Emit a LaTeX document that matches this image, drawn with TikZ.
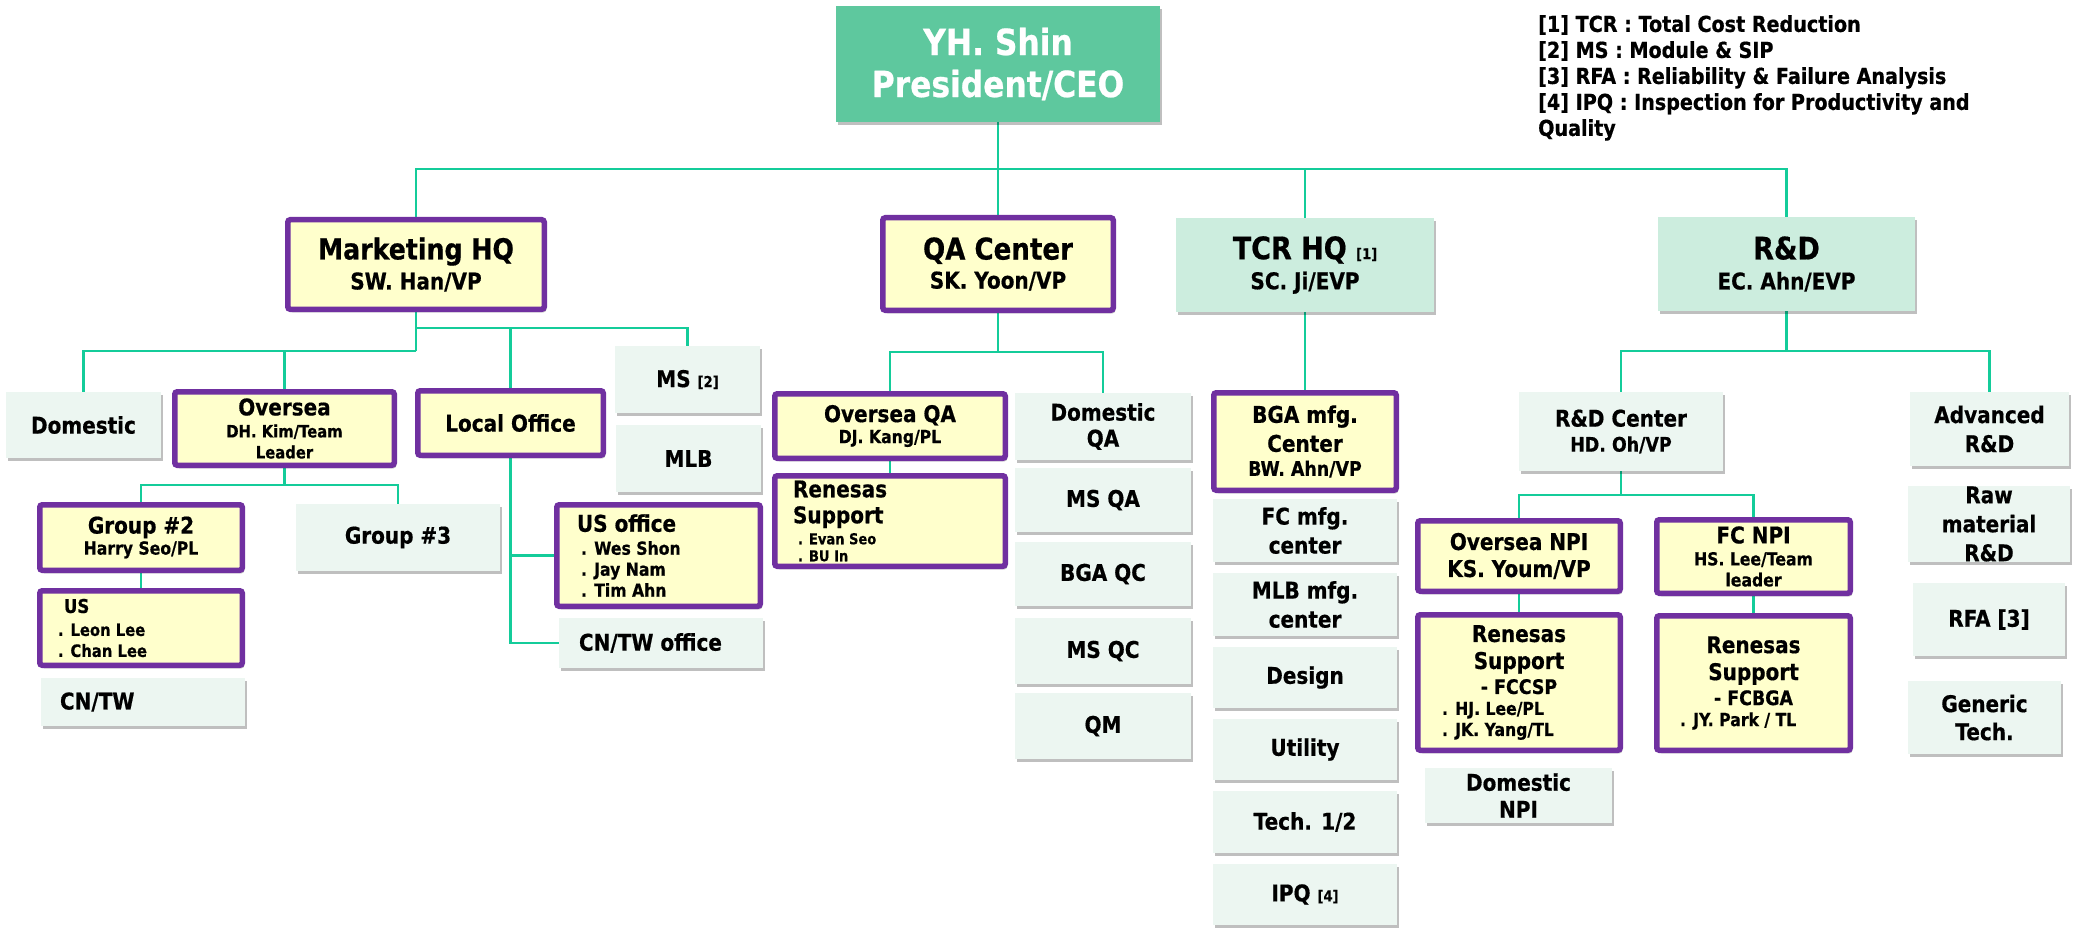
\documentclass[tikz,border=0pt]{standalone}
\usepackage{fontspec}
\setmainfont{DejaVu Sans}[FakeStretch=0.87, BoldFeatures={FakeBold=0.6}]
\usetikzlibrary{shadows,backgrounds}
\definecolor{purp}{RGB}{112,48,160}
\definecolor{ylw}{RGB}{255,255,204}
\definecolor{mint}{RGB}{236,246,241}
\definecolor{tmint}{RGB}{204,237,222}
\definecolor{ceog}{RGB}{94,200,158}
\definecolor{lin}{RGB}{20,204,154}
\newcommand{\setfs}[2]{\fontsize{#1}{#2}\selectfont}
\tikzset{
  box/.style={inner sep=0pt, align=center, text=black, font=\bfseries\setfs{23}{27},
    drop shadow={shadow xshift=2pt, shadow yshift=-3pt, opacity=0.25, fill=black}},
  pbox/.style={box, fill=ylw, draw=purp, line width=5.5pt, rounded corners=2.5pt},
  mbox/.style={box, fill=mint},
  tbox/.style={box, fill=tmint},
  conn/.style={draw=lin, line width=2.5pt},
}
\begin{document}
\begin{tikzpicture}[x=1pt, y=-1pt]
\useasboundingbox (0,0) rectangle (2073,928);
% CEO
\node[box, fill=ceog, text=white, minimum width=324pt, minimum height=116pt, font=\bfseries\setfs{36}{42}] (ceo) at (998,64) {YH. Shin\\President/CEO};
% legend
\node[inner sep=0pt, anchor=north west, align=left, font=\bfseries\setfs{22}{26}] (legend) at (1538,15)
 {{}[1] TCR : Total Cost Reduction\\{}[2] MS : Module \& SIP\\{}[3] RFA : Reliability \& Failure Analysis\\{}[4] IPQ : Inspection for Productivity and\\Quality};
% level 1
\node[pbox, minimum width=256.5pt, minimum height=89.5pt, font=\bfseries\setfs{23}{30}] (mkt) at (416,264.5)
 {{\setfs{29}{30}Marketing HQ}\\{\setfs{23}{30}SW. Han/VP}};
\node[pbox, minimum width=230.5pt, minimum height=92.5pt, font=\bfseries\setfs{23}{29}] (qa) at (998,264)
 {{\setfs{30}{29}QA Center}\\{\setfs{23}{29}SK. Yoon/VP}};
\node[tbox, minimum width=258pt, minimum height=94pt, font=\bfseries\setfs{23}{30}] (tcr) at (1305,265)
 {{\setfs{31}{30}TCR HQ \setfs{15}{30}[1]}\\{\setfs{23}{30}SC. Ji/EVP}};
\node[tbox, minimum width=257pt, minimum height=94pt, font=\bfseries\setfs{23}{30}] (rnd) at (1786.5,264)
 {{\setfs{31}{30}R\&D}\\{\setfs{23}{30}EC. Ahn/EVP}};
% marketing subtree
\node[mbox, minimum width=155pt, minimum height=66pt] (dom) at (83.5,425) {Domestic};
\node[pbox, minimum width=219.5pt, minimum height=73.5pt, font=\bfseries\setfs{23}{21}] (ovs) at (284.5,428.5)
 {Oversea\\[1pt]{\setfs{17}{21}DH. Kim/Team}\\{\setfs{17}{21}Leader}};
\node[pbox, minimum width=185.5pt, minimum height=64.5pt] (loc) at (510.5,423) {Local Office};
\node[mbox, minimum width=145pt, minimum height=67pt] (ms) at (687.5,379.5) {MS {\setfs{15}{18}[2]}};
\node[mbox, minimum width=145pt, minimum height=67pt] (mlb) at (688.5,458.5) {MLB};
\node[pbox, minimum width=203.5pt, minimum height=101.5pt, font=\bfseries\setfs{23}{21}] (usoff) at (658.5,555.5)
 {\makebox[163pt][l]{US office}\\[2pt]\makebox[163pt][l]{\setfs{18}{21}\hspace{4pt}. Wes Shon}\\\makebox[163pt][l]{\setfs{18}{21}\hspace{4pt}. Jay Nam}\\\makebox[163pt][l]{\setfs{18}{21}\hspace{4pt}. Tim Ahn}};
\node[mbox, minimum width=204pt, minimum height=50pt] (cnoff) at (661,643) {\makebox[164pt][l]{CN/TW office}};
\node[pbox, minimum width=202.5pt, minimum height=65.5pt, font=\bfseries\setfs{23}{21}] (g2) at (141,537.5)
 {Group \#2\\{\setfs{18}{21}Harry Seo/PL}};
\node[pbox, minimum width=202.5pt, minimum height=74.5pt, font=\bfseries\setfs{19}{21}] (us) at (141,628)
 {\makebox[166pt][l]{\hspace{6pt}US}\\[2pt]\makebox[166pt][l]{\setfs{17}{21}. Leon Lee}\\\makebox[166pt][l]{\setfs{17}{21}. Chan Lee}};
\node[mbox, minimum width=204pt, minimum height=48pt] (cn) at (143,702) {\makebox[166pt][l]{CN/TW}};
\node[mbox, minimum width=204pt, minimum height=67pt] (g3) at (398,537.5) {Group \#3};
% QA subtree
\node[pbox, minimum width=230.5pt, minimum height=64.5pt, font=\bfseries\setfs{23}{21}] (ovqa) at (890,426)
 {Oversea QA\\{\setfs{18}{21}DJ. Kang/PL}};
\node[pbox, minimum width=230.5pt, minimum height=90.5pt, font=\bfseries\setfs{23}{19}] (renqa) at (890,521)
 {\makebox[194pt][l]{Renesas}\\[7pt]\makebox[194pt][l]{Support}\\[2pt]\makebox[194pt][l]{\setfs{15}{19}\hspace{5pt}. Evan Seo}\\[-2pt]\makebox[194pt][l]{\setfs{15}{19}\hspace{5pt}. BU In}};
\node[mbox, minimum width=176pt, minimum height=67pt, font=\bfseries\setfs{23}{26}] (domqa) at (1103,426.5) {Domestic\\QA};
\node[mbox, minimum width=176pt, minimum height=64pt] (msqa) at (1103,500) {MS QA};
\node[mbox, minimum width=176pt, minimum height=64pt] (bgaqc) at (1103,574) {BGA QC};
\node[mbox, minimum width=176pt, minimum height=66pt] (msqc) at (1103,651) {MS QC};
\node[mbox, minimum width=176pt, minimum height=66pt] (qm) at (1103,726) {QM};
% TCR subtree
\node[pbox, minimum width=182.5pt, minimum height=97.5pt, font=\bfseries\setfs{23}{29}] (bga) at (1305,441.5)
 {BGA mfg.\\Center\\[-5pt]{\setfs{20}{29}BW. Ahn/VP}};
\node[mbox, minimum width=184pt, minimum height=63pt, font=\bfseries\setfs{23}{29}] (fcm) at (1305,530.5) {FC mfg.\\center};
\node[mbox, minimum width=184pt, minimum height=63pt, font=\bfseries\setfs{23}{29}] (mlbm) at (1305,604.5) {MLB mfg.\\center};
\node[mbox, minimum width=184pt, minimum height=61pt] (design) at (1305,677.5) {Design};
\node[mbox, minimum width=184pt, minimum height=61pt] (utility) at (1305,749.5) {Utility};
\node[mbox, minimum width=184pt, minimum height=62pt] (tech) at (1305,822) {Tech. 1/2};
\node[mbox, minimum width=184pt, minimum height=61pt] (ipq) at (1305,894.5) {IPQ {\setfs{15}{18}[4]}};
% R&D subtree
\node[mbox, minimum width=204pt, minimum height=79pt, font=\bfseries\setfs{23}{25}] (rdc) at (1621,431.5)
 {R\&D Center\\{\setfs{20}{25}HD. Oh/VP}};
\node[mbox, minimum width=159pt, minimum height=74pt, font=\bfseries\setfs{23}{29}] (adv) at (1989.5,429) {Advanced\\R\&D};
\node[mbox, minimum width=162pt, minimum height=74pt, font=\bfseries\setfs{23}{29}] (raw) at (1989,524) {Raw\\material\\R\&D};
\node[mbox, minimum width=152pt, minimum height=73pt] (rfa) at (1989,619.5) {RFA [3]};
\node[mbox, minimum width=153pt, minimum height=73pt, font=\bfseries\setfs{23}{28}] (gen) at (1984.5,717.5) {Generic\\Tech.};
\node[pbox, minimum width=202.5pt, minimum height=70.5pt, font=\bfseries\setfs{23}{27}] (onpi) at (1519,556) {Oversea NPI\\KS. Youm/VP};
\node[pbox, minimum width=202.5pt, minimum height=135.5pt, font=\bfseries\setfs{23}{21}] (ren1) at (1519,682.5)
 {Renesas\\[6pt]Support\\[4pt]{\setfs{20}{21}- FCCSP}\\\makebox[154pt][l]{\setfs{18}{21}. HJ. Lee/PL}\\\makebox[154pt][l]{\setfs{18}{21}. JK. Yang/TL}};
\node[mbox, minimum width=187pt, minimum height=55pt, font=\bfseries\setfs{23}{27}] (dnpi) at (1518.5,795.5) {Domestic\\NPI};
\node[pbox, minimum width=193.5pt, minimum height=73.5pt, font=\bfseries\setfs{23}{21}] (fcnpi) at (1753.5,556.5)
 {FC NPI\\[1pt]{\setfs{18}{21}HS. Lee/Team}\\{\setfs{18}{21}leader}};
\node[pbox, minimum width=193.5pt, minimum height=134.5pt, font=\bfseries\setfs{23}{21}] (ren2) at (1753.5,683)
 {Renesas\\[6pt]Support\\[4pt]{\setfs{20}{21}- FCBGA}\\\makebox[147pt][l]{\setfs{18}{21}. JY. Park / TL}};
% bus coordinates
\coordinate (bus1) at (998,169);
\coordinate (mA) at (416,328);
\coordinate (mB) at (416,351);
\coordinate (oB) at (284.5,485);
\coordinate (qB) at (998,352);
\coordinate (rB) at (1786.5,351);
\coordinate (cB) at (1621,495);
\begin{scope}[on background layer]
\fill[white] (0,0) rectangle (2073,928);
\draw[conn] (ceo.south) -- (qa.north);
\draw[conn] (mkt.north) |- (bus1) -| (rnd.north);
\draw[conn] (tcr.north) |- (bus1);
\draw[conn] (mkt.south) -- (mB);
\draw[conn] (mB) -| (dom.north);
\draw[conn] (mB) -| (ovs.north);
\draw[conn] (mA) -| (loc.north);
\draw[conn] (mA) -| (ms.north);
\draw[conn] (loc.south) |- (usoff.west);
\draw[conn] (loc.south) |- (cnoff.west);
\draw[conn] (ovs.south) -- (oB);
\draw[conn] (oB) -| (g2.north);
\draw[conn] (oB) -| (g3.north);
\draw[conn] (g2.south) -- (us.north);
\draw[conn] (qa.south) -- (qB);
\draw[conn] (qB) -| (ovqa.north);
\draw[conn] (qB) -| (domqa.north);
\draw[conn] (ovqa.south) -- (renqa.north);
\draw[conn] (tcr.south) -- (bga.north);
\draw[conn] (rnd.south) -- (rB);
\draw[conn] (rB) -| (rdc.north);
\draw[conn] (rB) -| (adv.north);
\draw[conn] (rdc.south) -- (cB);
\draw[conn] (cB) -| (onpi.north);
\draw[conn] (cB) -| (fcnpi.north);
\draw[conn] (onpi.south) -- (ren1.north);
\draw[conn] (fcnpi.south) -- (ren2.north);
\end{scope}
\end{tikzpicture}
\end{document}
